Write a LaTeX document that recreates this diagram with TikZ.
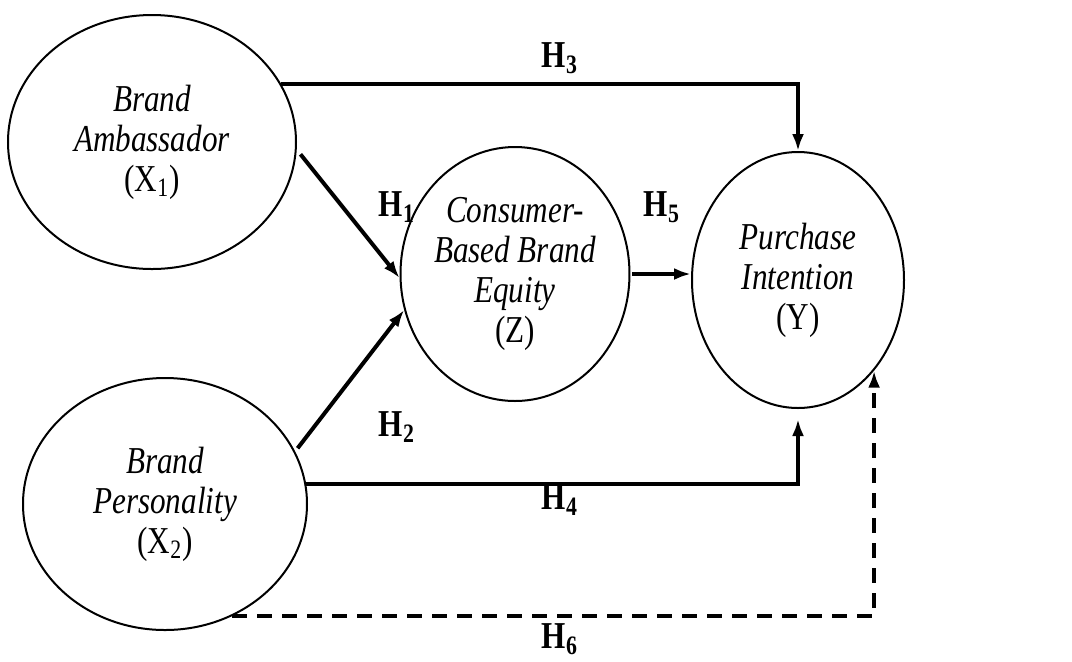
\documentclass[tikz,border=0pt]{standalone}
\usepackage{fontspec}
\setmainfont{Liberation Serif}[FakeStretch=0.82]
\usetikzlibrary{arrows.meta,shapes.geometric}
\begin{document}
\begin{tikzpicture}[x=0.5pt,y=-0.5pt,
    var/.style={draw,line width=1pt,ellipse,inner sep=0pt,align=center,
      font=\fontsize{19}{20}\selectfont},
    hyp/.style={-{Latex[length=8.5pt,width=6pt]},line width=2pt},
    hlbl/.style={font=\fontsize{19}{18}\selectfont\bfseries}]
  \useasboundingbox (0,0) rectangle (1072,661);

  \node[var,minimum width=144pt,minimum height=127pt] (ba) at (152,142)
    {\textit{Brand}\\\textit{Ambassador}\\(X\textsubscript{1})};
  \node[var,minimum width=142pt,minimum height=126pt] (bp) at (165,504)
    {\textit{Brand}\\\textit{Personality}\\(X\textsubscript{2})};
  \node[var,minimum width=112pt,minimum height=127pt] (cbbe) at (515,274)
    {\textit{Consumer-}\\\textit{Based Brand}\\\textit{Equity}\\(Z)};
  \node[var,minimum width=106pt,minimum height=128pt] (pi) at (798,280)
    {\textit{Purchase}\\\textit{Intention}\\(Y)};

  \draw[hyp] (ba.24) -| (pi.north);
  \draw[hyp,shorten <=3pt] (ba.-3) -- (cbbe.182);
  \draw[hyp,shorten <=2pt] (bp.22) -- (cbbe.198);
  \draw[hyp,shorten >=5pt] (bp.8) -| (pi.south);
  \draw[hyp,shorten <=1pt] (cbbe.east) -- (cbbe.east -| pi.west);
  \draw[hyp,dash pattern=on 7.5pt off 5pt] (bp.-59) -| (pi.-50);

  \node[hlbl] (h1) at (397,207) {H\textsubscript{1}};
  \node[hlbl] (h2) at (397,427) {H\textsubscript{2}};
  \node[hlbl] (h3) at (560,58) {H\textsubscript{3}};
  \node[hlbl] (h4) at (560,500) {H\textsubscript{4}};
  \node[hlbl] (h5) at (662,207) {H\textsubscript{5}};
  \node[hlbl] (h6) at (560,639) {H\textsubscript{6}};
\end{tikzpicture}
\end{document}
